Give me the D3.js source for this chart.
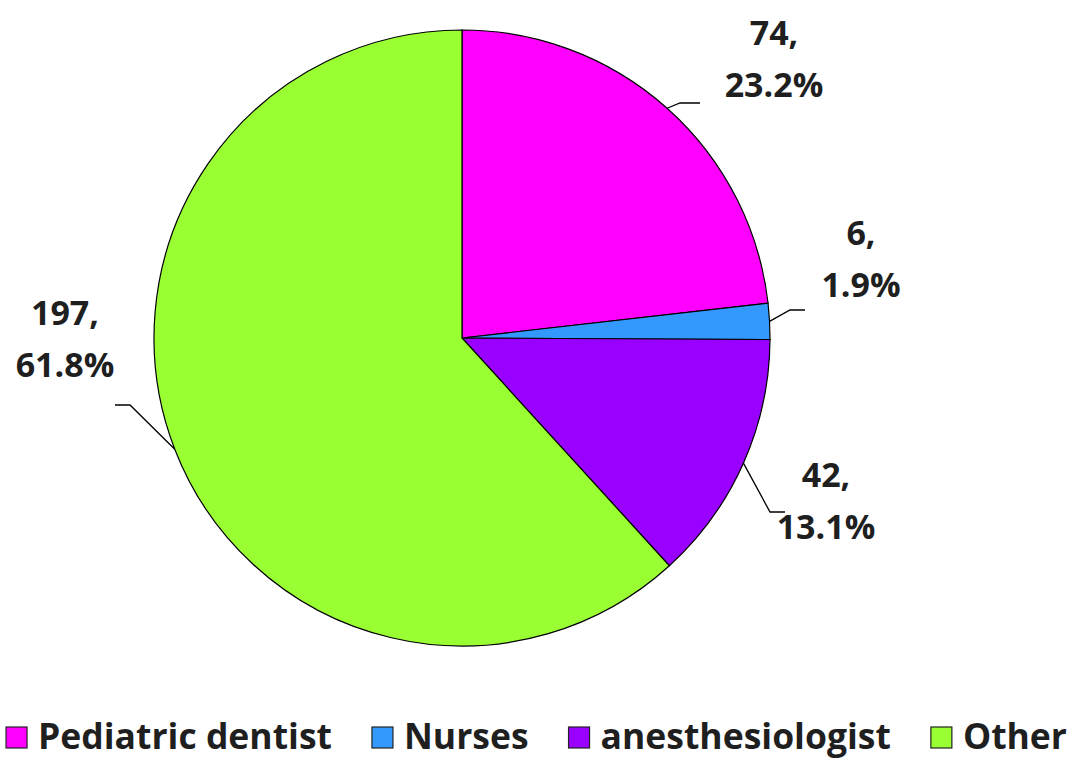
<!DOCTYPE html>
<html><head><meta charset="utf-8">
<script src="https://cdn.jsdelivr.net/npm/d3@7"></script>
<style>body{margin:0;background:#fff}svg{display:block}</style>
</head><body>
<svg id="c" width="1077" height="760"></svg>
<script>
const categories = ["Pediatric dentist", "Nurses", "anesthesiologist", "Other"];
const counts = [74, 6, 42, 197];
const percents = ["23.2%", "1.9%", "13.1%", "61.8%"];
const colors = ["#FF00FF", "#3399FF", "#9900FF", "#99FF33"];

const svg = d3.select("#c");
const W = 1077, H = 760;
const cx = 462, cy = 338, R = 308;
const FONT = "'Open Sans', Lato, sans-serif";
const TXT = "#1f1f1f";

const pie = d3.pie().sort(null).value(d => d)(counts);
const arc = d3.arc().innerRadius(0).outerRadius(R);
const g = svg.append("g").attr("transform", `translate(${cx},${cy})`);
g.selectAll("path").data(pie).join("path")
  .attr("d", arc).attr("fill", (d, i) => colors[i])
  .attr("stroke", "#000").attr("stroke-width", 1.2);

const labelPos = [
  {tx: 312, ty: -293},
  {tx: 399, ty: -93},
  {tx: 364, ty: 149},
  {tx: -397, ty: -13}
];
const elbows = [
  [[218, -235], [238, -235]],
  [[328, -28], [343, -28]],
  [[308, 174], [323, 174]],
  [[-332, 67], [-347, 67]]
];
pie.forEach((d, i) => {
  const mid = (d.startAngle + d.endAngle) / 2;
  const px = Math.sin(mid) * R, py = -Math.cos(mid) * R;
  const p = labelPos[i];
  const pts = [[px, py], ...elbows[i]];
  g.append("polyline").attr("points", pts.map(q => q.join(",")).join(" "))
    .attr("fill", "none").attr("stroke", "#000").attr("stroke-width", 1.3);
  const t = g.append("text").attr("text-anchor", "middle")
    .attr("font-family", FONT).attr("font-weight", 700).attr("font-size", 34)
    .attr("fill", TXT);
  t.append("tspan").attr("x", p.tx).attr("y", p.ty).text(counts[i] + ",");
  t.append("tspan").attr("x", p.tx).attr("y", p.ty + 52).text(percents[i]);
});

// legend
const lg = svg.append("g");
const items = lg.selectAll("g").data(categories).join("g");
items.append("rect").attr("width", 21).attr("height", 21).attr("y", -22)
  .attr("fill", (d, i) => colors[i]).attr("stroke", "#222").attr("stroke-width", 1.2);
items.append("text").attr("x", 32).attr("y", 0)
  .attr("font-family", FONT).attr("font-weight", 700).attr("font-size", 35.5)
  .attr("fill", TXT).text(d => d);
let x = 0;
const widths = [];
items.each(function() { widths.push(this.getBBox().width); });
const gap = 40;
items.attr("transform", (d, i) => { const tx = x; x += widths[i] + gap; return `translate(${tx},0)`; });
const total = x - gap;
lg.attr("transform", `translate(${(W - total) / 2 - 2},749)`);
</script>
</body></html>
